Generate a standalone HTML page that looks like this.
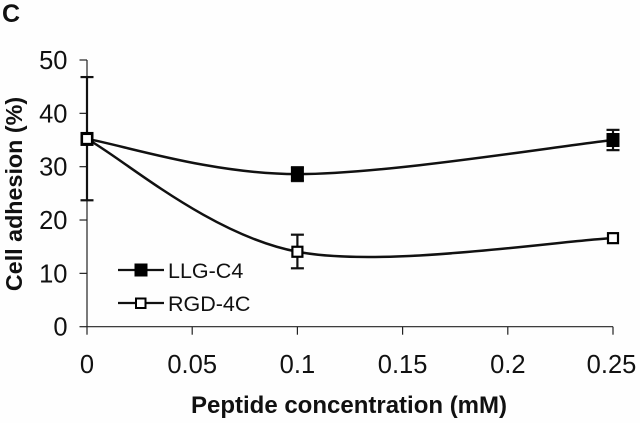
<!DOCTYPE html>
<html>
<head>
<meta charset="utf-8">
<title>Cell adhesion chart</title>
<style>
html,body{margin:0;padding:0;background:#fefefe;}
svg{display:block;}
text{font-family:"Liberation Sans",sans-serif;fill:#111;}
</style>
</head>
<body>
<svg id="chart" width="640" height="423" viewBox="0 0 640 423" xmlns="http://www.w3.org/2000/svg">
<rect width="640" height="423" fill="#fefefe"/>
<text x="2" y="22" font-size="25" font-weight="bold">C</text>
<text transform="translate(22,194) rotate(-90)" text-anchor="middle" font-size="23.3" font-weight="bold">Cell adhesion (%)</text>
<text x="349" y="413" text-anchor="middle" font-size="24" font-weight="bold">Peptide concentration (mM)</text>
</svg>
<script>
const xCategories = [0, 0.1, 0.25];
const llgValues = [35.2, 28.6, 35];
const llgErrLow = [35.2, 27.3, 33.1];
const llgErrHigh = [35.2, 29.9, 36.9];
const rgdValues = [35.2, 14.05, 16.6];
const rgdErrLow = [23.7, 10.95, 16.6];
const rgdErrHigh = [46.8, 17.25, 16.6];
const xTicks = [0, 0.05, 0.1, 0.15, 0.2, 0.25];
const yTicks = [0, 10, 20, 30, 40, 50];

const svg = document.getElementById('chart');
const NS = 'http://www.w3.org/2000/svg';
const xScale = v => 87 + v / 0.25 * 526;
const yScale = v => 326.7 - v / 50 * 266.7;

function mk(tag, attrs, parent) {
  const el = document.createElementNS(NS, tag);
  for (const k in attrs) el.setAttribute(k, attrs[k]);
  (parent || svg).appendChild(el);
  return el;
}
function smoothPath(xs, ys) {
  const p = xs.map((x, i) => [xScale(x), yScale(ys[i])]);
  let d = 'M' + p[0][0] + ' ' + p[0][1];
  for (let i = 0; i < p.length - 1; i++) {
    const a = p[Math.max(i - 1, 0)], b = p[i], c = p[i + 1], e = p[Math.min(i + 2, p.length - 1)];
    d += ' C' + (b[0] + (c[0] - a[0]) / 6) + ' ' + (b[1] + (c[1] - a[1]) / 6) + ' ' +
      (c[0] - (e[0] - b[0]) / 6) + ' ' + (c[1] - (e[1] - b[1]) / 6) + ' ' + c[0] + ' ' + c[1];
  }
  return d;
}

const axes = {stroke: '#222', 'stroke-width': 1.2, fill: 'none'};

const yAxis = mk('line', Object.assign({x1: xScale(0), x2: xScale(0), y1: yScale(50), y2: yScale(0)}, axes));


const xAxis = mk('line', Object.assign({x1: xScale(0), x2: xScale(0.25), y1: yScale(0), y2: yScale(0)}, axes));



yTicks.forEach(v => {
  const t = mk('line', Object.assign({x1: xScale(0) - 7.5, x2: xScale(0), y1: yScale(v), y2: yScale(v)}, axes));
  
  
  const l = mk('text', {x: 67.5, y: yScale(v) + 9, 'text-anchor': 'end', 'font-size': 25.5});
  l.textContent = String(v);
  
  
});
xTicks.forEach(v => {
  const t = mk('line', Object.assign({x1: xScale(v), x2: xScale(v), y1: yScale(0), y2: yScale(0) + 8}, axes));
  
  
  const l = mk('text', {x: Math.min(xScale(v), 611.5), y: 373, 'text-anchor': 'middle', 'font-size': 25.5});
  l.textContent = String(v);
  
  
});

function drawErrors(vals, low, high, w, capHalf, name) {
  vals.forEach((_, i) => {
    if (low[i] === high[i]) return;
    const x = xScale(xCategories[i]);
    const g = mk('g', {stroke: '#111', 'stroke-width': w, fill: 'none'});
    
    
    mk('line', {x1: x, x2: x, y1: yScale(low[i]), y2: yScale(high[i])}, g);
    mk('line', {x1: x - capHalf, x2: x + capHalf, y1: yScale(low[i]), y2: yScale(low[i])}, g);
    mk('line', {x1: x - capHalf, x2: x + capHalf, y1: yScale(high[i]), y2: yScale(high[i])}, g);
  });
}
drawErrors(llgValues, llgErrLow, llgErrHigh, 2.2, 6.5, 'llg-error-bar');
drawErrors(rgdValues, rgdErrLow, rgdErrHigh, 2.2, 6.5, 'rgd-error-bar');

const llgLine = mk('path', {d: smoothPath(xCategories, llgValues), fill: 'none', stroke: '#111', 'stroke-width': 2.5});


const rgdLine = mk('path', {d: smoothPath(xCategories, rgdValues), fill: 'none', stroke: '#111', 'stroke-width': 2.5});



llgValues.forEach((v, i) => {
  const m = mk('rect', {x: xScale(xCategories[i]) - 6.5, y: yScale(v) - 7, width: 13, height: 14, fill: '#000'});
  
  
});
rgdValues.forEach((v, i) => {
  const m = mk('rect', {x: xScale(xCategories[i]) - 5, y: yScale(v) - 5, width: 10, height: 10, fill: '#fff', stroke: '#000', 'stroke-width': 2.2});
  
  
});

const legendNames = ['LLG-C4', 'RGD-4C'];
const legendRows = [270, 303];
legendNames.forEach((name, i) => {
  const g = mk('g', {});
  
  
  const y = legendRows[i];
  mk('line', {x1: 118, x2: 164, y1: y, y2: y, stroke: '#111', 'stroke-width': 2.2}, g);
  if (i === 0) mk('rect', {x: 134.5, y: y - 6.5, width: 13, height: 13, fill: '#000'}, g);
  else mk('rect', {x: 136, y: y - 4.5, width: 9.5, height: 9.5, fill: '#fff', stroke: '#000', 'stroke-width': 2}, g);
  const t = mk('text', {x: 168, y: y + 8, 'font-size': 21.5}, g);
  t.textContent = name;
});
</script>
</body>
</html>
